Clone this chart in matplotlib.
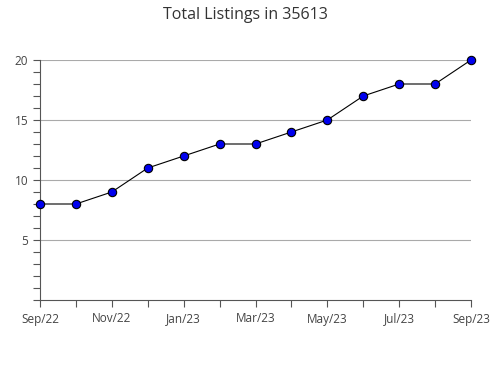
import matplotlib.pyplot as plt
from matplotlib.ticker import MultipleLocator

plt.rcParams['font.family'] = ['Open Sans', 'DejaVu Sans']

months = ["Sep/22", "Oct/22", "Nov/22", "Dec/22", "Jan/23", "Feb/23", "Mar/23",
          "Apr/23", "May/23", "Jun/23", "Jul/23", "Aug/23", "Sep/23"]
listings = [8, 8, 9, 11, 12, 13, 13, 14, 15, 17, 18, 18, 20]

fig = plt.figure(figsize=(4.9, 3.8), dpi=100)
ax = fig.add_axes([40 / 490, 80 / 380, 431 / 490, 240 / 380])

x = list(range(len(months)))
ax.plot(x, listings, color="black", linewidth=0.8, marker="o", markersize=6,
        markerfacecolor="#0000ee", markeredgecolor="black", markeredgewidth=0.8,
        zorder=3, clip_on=False)

ax.set_xlim(0, len(months) - 1)
ax.set_ylim(0, 20)
ax.set_xticks(x)
ax.set_xticklabels([m if i % 2 == 0 else "" for i, m in enumerate(months)])
ax.set_yticks([5, 10, 15, 20])
ax.yaxis.set_minor_locator(MultipleLocator(1))
ax.grid(axis="y", color="#aaaaaa", linewidth=0.8)
ax.set_axisbelow(True)

for side in ["top", "right"]:
    ax.spines[side].set_visible(False)
for side in ["left", "bottom"]:
    ax.spines[side].set_color("#555555")
    ax.spines[side].set_linewidth(0.8)

ax.tick_params(axis="both", which="both", colors="#555555", labelcolor="#444444",
               labelsize=8.5, length=5, width=0.8)
ax.tick_params(axis="y", which="minor", length=5)
ax.tick_params(axis="x", pad=4)

fig.suptitle("Total Listings in 35613", x=245 / 490, y=1 - 15 / 380, va="center",
             fontsize=11.5, color="#333333")

plt.savefig("out.png", dpi=100)
plt.close()
